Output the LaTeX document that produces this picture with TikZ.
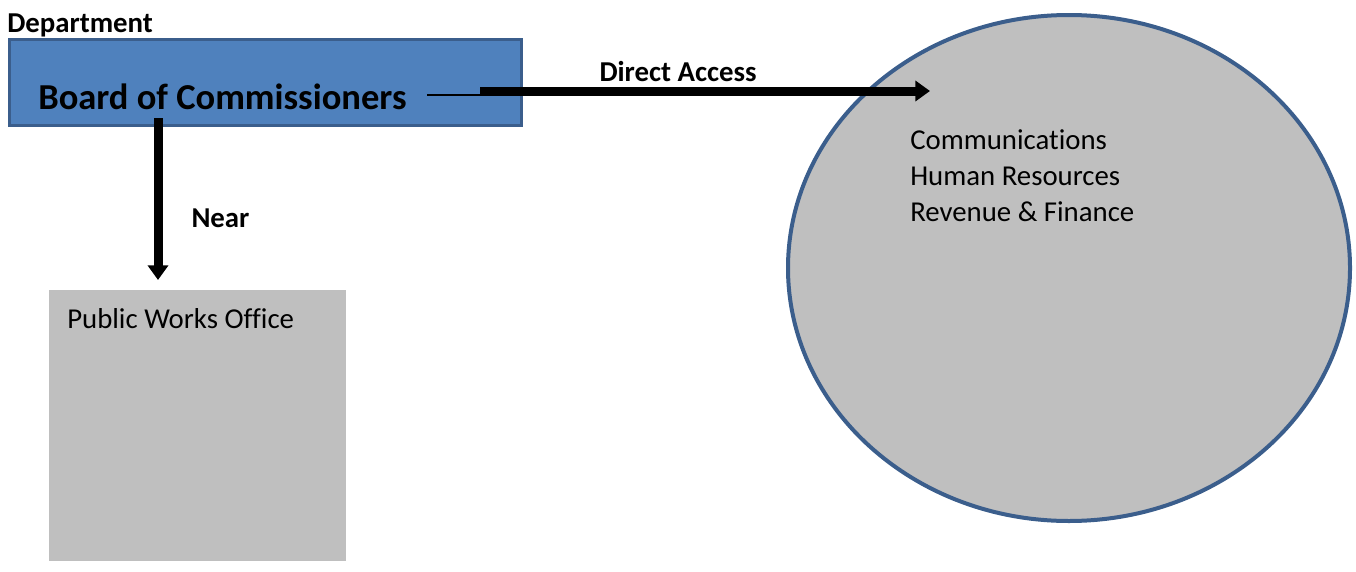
\documentclass[tikz,border=0pt]{standalone}
\usepackage{fontspec}
\setmainfont{Carlito}[Ligatures=NoCommon]
\usetikzlibrary{positioning,arrows.meta,shapes.geometric}

\definecolor{boardblue}{HTML}{4F81BD}
\definecolor{edgeblue}{HTML}{3B5E8C}
\definecolor{officegray}{HTML}{BFBFBF}

\begin{document}
\begin{tikzpicture}[x=0.75pt,y=-0.75pt,
  boardbox/.style={
        draw=edgeblue,
        line width=2.25pt,
        fill=boardblue,
        inner sep=0pt,
        minimum width=384pt,
        minimum height=64.5pt
  },
  officebox/.style={
        fill=officegray,
        inner sep=0pt,
        minimum width=222.75pt,
        minimum height=203.25pt
  },
  unitcircle/.style={
        ellipse,
        draw=edgeblue,
        line width=3pt,
        fill=officegray,
        inner sep=0pt,
        minimum width=421.5pt,
        minimum height=379.5pt
  },
  label/.style={
        anchor=base west,
        inner sep=0pt,
        font=\fontsize{21.6pt}{26pt}\selectfont
  },
  boldlabel/.style={
        label,
        font=\fontsize{21.6pt}{26pt}\selectfont\bfseries
  },
  conn/.style={
        line width=6.75pt,
        -{Triangle[width=15pt,length=11pt]}
  }
]

    \useasboundingbox (0,0) rectangle (1356,571);

    \node[boardbox] (board) at (265.5,82.5) {};
    \node[boldlabel] (dept) at (7,32) {Department};
    \node[label, font=\fontsize{27.4pt}{32pt}\selectfont\bfseries] (boardtxt) at (38,109) {Board of Commissioners};

    \node[officebox] (pwo) at (197.5,425.5) {};
    \node[label] (pwotxt) at (67,328) {Public Works Office};

    \node[unitcircle] (units) at (1069,268) {};
    \node[label] (comm) at (910,149) {Communications};
    \node[label] (hr) at (910,185) {Human Resources};
    \node[label] (rev) at (910,221) {Revenue \& Finance};

    \coordinate (thinstart) at (427,95);
    \coordinate (bend) at (480,95);
    \coordinate (tip) at (930,91);
    \coordinate (nearstart) at (158,118);
    \coordinate (neartip) at (158,280);

    \draw[line width=1.1pt] (thinstart) -- (bend);
    \draw[conn] (bend |- tip) -- (tip)
    node[boldlabel] (access) at (595,81) {Direct Access};
    \draw[conn] (nearstart) -- (neartip)
    node[boldlabel] (near) at (187,227) {Near};
\end{tikzpicture}
\end{document}
